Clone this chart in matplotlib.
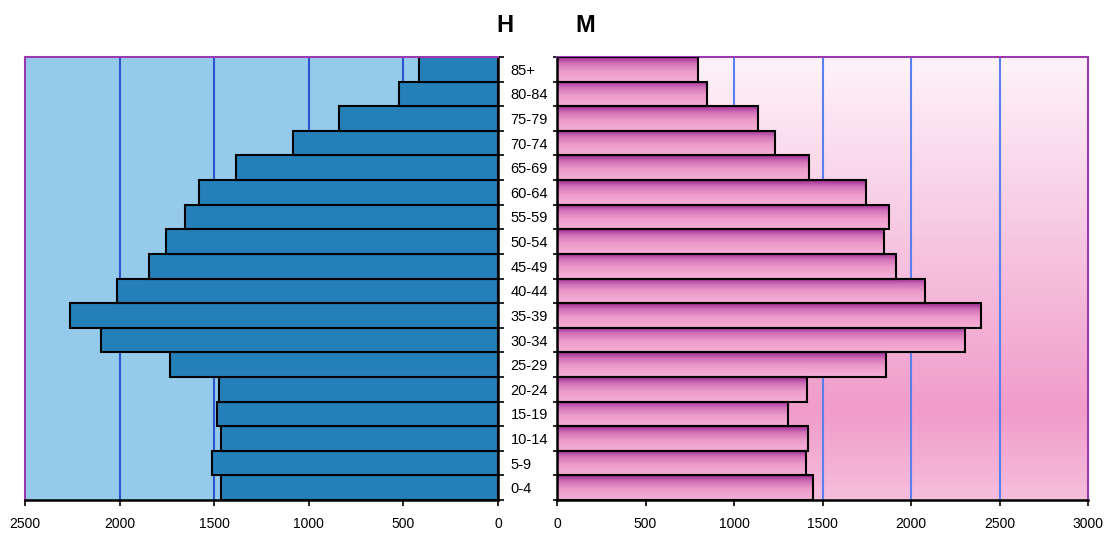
import numpy as np
import matplotlib
matplotlib.use("Agg")
import matplotlib.pyplot as plt
from matplotlib.colors import LinearSegmentedColormap

plt.rcParams['font.family'] = ['Liberation Sans', 'DejaVu Sans']

categories = ["0-4", "5-9", "10-14", "15-19", "20-24", "25-29", "30-34", "35-39",
              "40-44", "45-49", "50-54", "55-59", "60-64", "65-69", "70-74",
              "75-79", "80-84", "85+"]
hombres = [1464, 1512, 1464, 1485, 1475, 1734, 2098, 2262, 2014, 1845, 1755,
           1654, 1580, 1385, 1083, 840, 523, 417]
mujeres = [1446, 1407, 1418, 1305, 1412, 1859, 2305, 2395, 2079, 1915, 1847,
           1876, 1746, 1424, 1232, 1136, 847, 797]
left_ticks = [2500, 2000, 1500, 1000, 500, 0]
right_ticks = [0, 500, 1000, 1500, 2000, 2500, 3000]

fig = plt.figure(figsize=(11.05, 5.33), dpi=100)
axL = fig.add_axes([25/1105, 33/533, 473/1105, 443/533])
axR = fig.add_axes([557/1105, 33/533, 531/1105, 443/533])

n = len(categories)
y = np.arange(n)

# Left panel
axL.set_facecolor('#96CAEA')
axL.set_xlim(2500, 0)
axL.set_ylim(-0.5, n - 0.5)
for t in [2000, 1500, 1000, 500]:
    axL.axvline(t, color='#2A55D0', lw=1.5, zorder=1)
axL.barh(y, hombres, height=1.0, color='#2580BA', edgecolor='black', lw=1.5, zorder=2)
axL.set_xticks(left_ticks)
axL.set_xticklabels([str(t) for t in left_ticks], fontsize=10)
axL.yaxis.tick_right()
axL.set_yticks(np.arange(-0.5, n, 1.0))
axL.set_yticklabels([])
axL.set_yticks(y, minor=True)
axL.set_yticklabels(categories, minor=True, fontsize=10.5)
axL.tick_params(axis='y', which='major', direction='out', length=4, width=1.2, color='black')
axL.tick_params(axis='y', which='minor', length=0, pad=9)
for lab in axL.get_yticklabels(minor=True):
    lab.set_horizontalalignment('left')
axL.tick_params(axis='x', direction='out', length=4, width=1.2, pad=8)
for s in ['top', 'left']:
    axL.spines[s].set_color('#9B3AAE')
    axL.spines[s].set_linewidth(1.5)
for s in ['right', 'bottom']:
    axL.spines[s].set_color('black')
    axL.spines[s].set_linewidth(1.8)

# Right panel
axR.set_xlim(0, 3000)
axR.set_ylim(-0.5, n - 0.5)
bg_cmap = LinearSegmentedColormap.from_list(
    'bg', [(0.0, '#F6BEDC'), (0.2, '#F09CC9'), (0.6, '#F7C8E2'), (1.0, '#FEF3F9')])
grad = np.linspace(0, 1, 256).reshape(-1, 1)
axR.imshow(grad, cmap=bg_cmap, aspect='auto', origin='lower',
           extent=[0, 3000, -0.5, n - 0.5], zorder=0)
for t in [1000, 1500, 2000, 2500]:
    axR.axvline(t, color='#5A80F0', lw=1.5, zorder=1)
bar_cmap = LinearSegmentedColormap.from_list(
    'bar', [(0.0, '#F6B0D6'), (0.45, '#EC9ACB'), (0.75, '#D070B6'), (1.0, '#9C2A94')])
bars = axR.barh(y, mujeres, height=1.0, facecolor='none', edgecolor='black', lw=1.5, zorder=3)
for b, yy, v in zip(bars, y, mujeres):
    im = axR.imshow(grad, cmap=bar_cmap, aspect='auto', origin='lower',
                    extent=[0, v, yy - 0.5, yy + 0.5], zorder=2)
    im.set_clip_path(b)
axR.set_xlim(0, 3000)
axR.set_ylim(-0.5, n - 0.5)
axR.set_xticks(right_ticks)
axR.set_xticklabels([str(t) for t in right_ticks], fontsize=10)
axR.set_yticks(np.arange(-0.5, n, 1.0))
axR.set_yticklabels([])
axR.tick_params(axis='y', direction='out', length=3, width=1.2)
axR.tick_params(axis='x', direction='out', length=4, width=1.2, pad=8)
for s in ['top', 'right']:
    axR.spines[s].set_color('#9B3AAE')
    axR.spines[s].set_linewidth(1.5)
for s in ['left', 'bottom']:
    axR.spines[s].set_color('black')
    axR.spines[s].set_linewidth(1.8)

fig.text(505/1105, 1 - 25/533, 'H', fontsize=17, fontweight='bold', ha='center', va='center')
fig.text(585/1105, 1 - 25/533, 'M', fontsize=17, fontweight='bold', ha='center', va='center')

fig.savefig('out.png', dpi=100)
